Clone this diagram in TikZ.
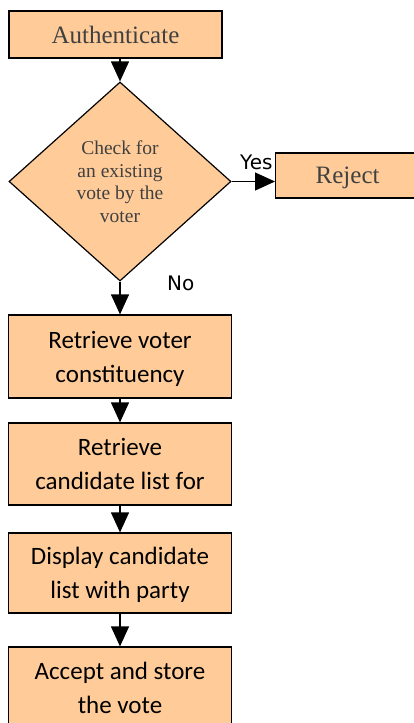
\documentclass[tikz,border=0pt]{standalone}
\usepackage{fontspec}
\setmainfont{Liberation Serif}
\newfontfamily\carlfont{Carlito}
\newfontfamily\dvfont{DejaVu Sans}
\usetikzlibrary{shapes.geometric,arrows.meta}
\definecolor{peach}{HTML}{FFCC99}
\definecolor{txtgray}{HTML}{404040}
\tikzset{
  boxbase/.style={draw=black, line width=1.2pt, fill=peach, inner sep=0pt, text depth=0pt, align=center},
  serifbox/.style={boxbase, text=txtgray, font=\fontsize{25}{30}\selectfont},
  sansbox/.style={boxbase, text=black, font=\carlfont\fontsize{25}{34}\selectfont, minimum width=223pt},
  decide/.style={boxbase, shape=diamond, text=txtgray, font=\fontsize{19.5}{22.7}\selectfont, minimum width=222pt, minimum height=199pt},
  flow/.style={line width=1.2pt, -{Triangle[length=20pt,width=18pt]}},
  lbl/.style={font=\dvfont\fontsize{20}{22}\selectfont, inner sep=0pt, anchor=base west}
}
\begin{document}
\begin{tikzpicture}[x=1pt,y=-1pt]
\useasboundingbox (0,0) rectangle (413,723);
\node[serifbox, minimum width=213pt, minimum height=47pt] (auth) at (115.5,34.5) {Authenticate};
\node[decide] (dia) at (120,181.5) {Check for\\an existing\\vote by the\\voter};
\node[serifbox, minimum width=170pt, minimum height=45pt, anchor=west] (rej) at (275,175.5) {Reject\hspace*{26pt}};
\node[sansbox, minimum height=83pt] (b2) at (120,356.5) {Retrieve voter\\constituency};
\node[sansbox, minimum height=82pt] (b3) at (120,464) {Retrieve\\candidate list for};
\node[sansbox, minimum height=80pt] (b4) at (120,573) {Display candidate\\list with party};
\node[sansbox, minimum height=100pt, text depth=18pt] (b5) at (120,697) {Accept and store\\the vote};
\node[lbl] (yes) at (240,169) {Yes};
\node[lbl] (no) at (167,290) {No};
\draw[flow] (auth.south -| dia.north) -- (dia.north);
\draw[flow] (dia.east) -- (dia.east -| rej.west);
\draw[flow] (dia.south) -- (b2.north);
\draw[flow] (b2.south) -- (b3.north);
\draw[flow] (b3.south) -- (b4.north);
\draw[flow] (b4.south) -- (b5.north);
\end{tikzpicture}
\end{document}
